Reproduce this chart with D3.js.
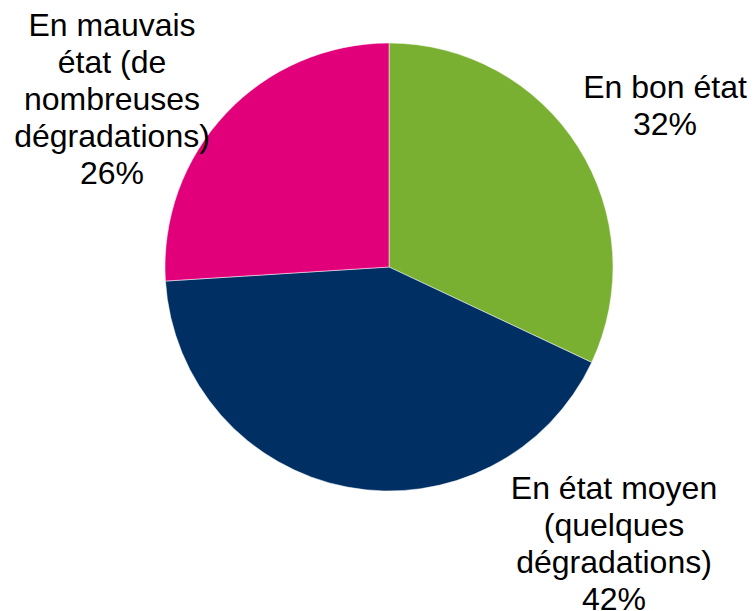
<!DOCTYPE html>
<html>
<head>
<meta charset="utf-8">
<script src="https://cdn.jsdelivr.net/npm/d3@7"></script>
<style>
  html, body { margin: 0; padding: 0; background: #fff; }
  svg { display: block; }
</style>
</head>
<body>
<div id="chart"></div>
<script>
// data
const categories = ["En bon état", "En état moyen (quelques dégradations)", "En mauvais état (de nombreuses dégradations)"];
const values = [32, 42, 26];
const colors = ["#7AB032", "#003063", "#E2007A"];
// label text lines, as wrapped in the picture
const labelLines = [
  ["En bon état", "32%"],
  ["En état moyen", "(quelques", "dégradations)", "42%"],
  ["En mauvais", "état (de", "nombreuses", "dégradations)", "26%"]
];

const width = 753, height = 611;
const cx = 389, cy = 267, radius = 224;
const fontSize = 32, lineHeight = 37;
// x centre and first baseline of each label block
const labelAnchors = [
  { x: 665, y: 98 },
  { x: 614, y: 499 },
  { x: 112, y: 36 }
];

const svg = d3.select("#chart").append("svg")
  .attr("width", width)
  .attr("height", height);

const pie = d3.pie().sort(null).value(d => d);
const arc = d3.arc().innerRadius(0).outerRadius(radius);

const g = svg.append("g")
  .attr("transform", "translate(" + cx + "," + cy + ")");

g.selectAll("path.slice")
  .data(pie(values))
  .enter()
  .append("path")
  .attr("class", "slice")
  .attr("d", arc)
  .attr("fill", (d, i) => colors[i])
  .attr("stroke", "#fff")
  .attr("stroke-width", 0.5);

// labels
const labels = svg.selectAll("text.label")
  .data(labelLines)
  .enter()
  .append("text")
  .attr("class", "label")
  .attr("text-anchor", "middle")
  .attr("font-family", "'Liberation Sans', Arial, sans-serif")
  .attr("font-size", fontSize + "px")
  .attr("fill", "#000");

labels.each(function (lines, i) {
  const t = d3.select(this);
  lines.forEach((line, j) => {
    t.append("tspan")
      .attr("x", labelAnchors[i].x)
      .attr("y", labelAnchors[i].y + j * lineHeight)
      .text(line);
  });
});
</script>
</body>
</html>
